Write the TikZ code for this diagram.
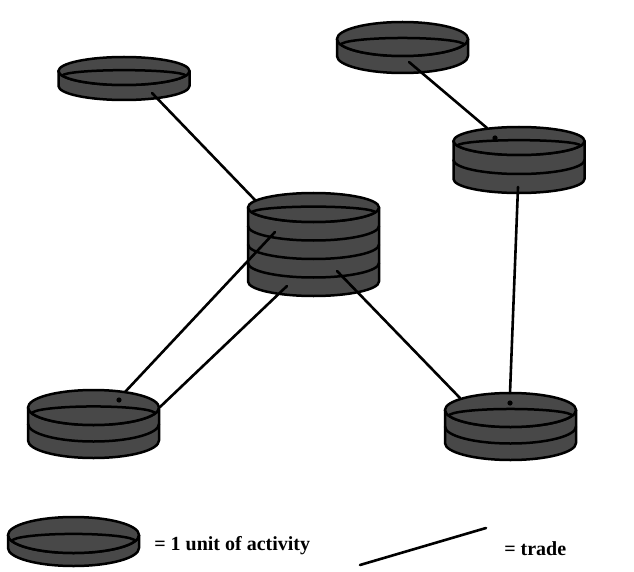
\documentclass[tikz,border=0pt]{standalone}
\usepackage{fontspec}
\setmainfont{Liberation Serif}
\usetikzlibrary{calc}
\definecolor{diskgray}{RGB}{72,72,72}

\begin{document}
\begin{tikzpicture}[x=1pt, y=-1pt, line width=2.5pt, line join=round, line cap=round]
  % общие параметры
  \def\rx{65.5}
  \pgfmathsetmacro{\rxi}{0.94*\rx}
  \tikzset{disk/.style={fill=diskgray, draw=black},
           trade/.style={draw=black, line width=2.6pt},
           legend/.style={anchor=base west, inner sep=0pt, font=\bfseries\fontsize{20}{24}\selectfont}}
  % стопка: x, y верхнего эллипса, число единиц, ry, высота единицы
  \def\actstack#1#2#3#4#5{%
    \pgfmathsetmacro{\yb}{#2+#3*#5}
    \filldraw[disk] (#1-\rx,#2) -- (#1-\rx,\yb)
      arc[start angle=180, end angle=0, x radius=\rx, y radius=#4] -- (#1+\rx,#2) -- cycle;
    \foreach \k in {1,...,#3}
      \draw (#1-\rx,#2+\k*#5-#5) arc[start angle=180, end angle=0, x radius=\rx, y radius=#4];
    \filldraw[disk] (#1,#2) ellipse[x radius=\rx, y radius=#4];
    \draw (#1-\rxi,#2+0.34*#4) arc[start angle=180, end angle=360, x radius=\rxi, y radius=0.4*#4];
  }

  \useasboundingbox (0,0) rectangle (634,572);

  % единицы активности
  \actstack{124}{71}{1}{14}{15}
  \actstack{402.5}{39}{1}{17}{17}
  \actstack{519}{141}{2}{14}{19}
  \actstack{313.5}{207.5}{4}{14.5}{18.5}
  \actstack{93.5}{407.5}{2}{17.5}{16.5}
  \actstack{510.5}{410}{2}{17}{16.5}

  % концы связей
  \coordinate (A-out) at (152,93);
  \coordinate (D-top) at (255,200);
  \coordinate (B-out) at (409,62);
  \coordinate (C-in)  at (487,128);
  \coordinate (C-out) at (518,187);
  \coordinate (F-in)  at (510,393);
  \coordinate (D-left) at (275,232);
  \coordinate (E-in)  at (125,392);
  \coordinate (D-low) at (287,286);
  \coordinate (E-rim) at (160,407);
  \coordinate (D-right) at (337,271);
  \coordinate (F-rim) at (460,398);

  % торговля
  \draw[trade] (A-out) -- (D-top);
  \draw[trade] (B-out) -- (C-in);
  \draw[trade] (C-out) -- (F-in);
  \draw[trade] (D-left) -- (E-in);
  \draw[trade] (D-low) -- (E-rim);
  \draw[trade] (D-right) -- (F-rim);

  \fill (495,138) circle (2.6);
  \fill (119,400) circle (2.6);
  \fill (510,403) circle (2.6);

  % легенда
  \actstack{73.5}{535}{1}{18}{13}
  \node[legend] (unitlbl) at (153,550) {= 1 unit of activity};
  \coordinate (lg-a) at (360,565);
  \coordinate (lg-b) at (486,528);
  \draw[trade] (lg-a) -- (lg-b);
  \node[legend] (tradelbl) at (503,555) {= trade};
\end{tikzpicture}
\end{document}
